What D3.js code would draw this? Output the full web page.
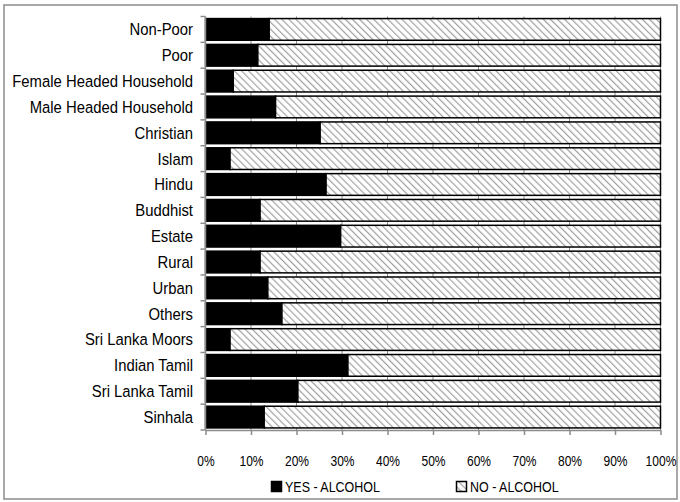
<!DOCTYPE html>
<html>
<head>
<meta charset="utf-8">
<script src="https://cdn.jsdelivr.net/npm/d3@7"></script>
<style>
  body { margin: 0; background: #fff; }
  svg text { font-family: "Liberation Sans", Arial, sans-serif; fill: #000; }
</style>
</head>
<body>
<div id="chart"></div>
<script>
// categories, top to bottom as drawn
var categories = ["Non-Poor", "Poor", "Female Headed Household", "Male Headed Household",
  "Christian", "Islam", "Hindu", "Buddhist", "Estate", "Rural", "Urban", "Others",
  "Sri Lanka Moors", "Indian Tamil", "Sri Lanka Tamil", "Sinhala"];

// share of households (%)
var yesAlcohol = [14.0, 11.5, 6.1, 15.4, 25.2, 5.4, 26.5, 12.0, 29.7, 12.0, 13.7, 16.8, 5.4, 31.3, 20.3, 12.9];
var noAlcohol  = [86.0, 88.5, 93.9, 84.6, 74.8, 94.6, 73.5, 88.0, 70.3, 88.0, 86.3, 83.2, 94.6, 68.7, 79.7, 87.1];

var xTicks = [0, 10, 20, 30, 40, 50, 60, 70, 80, 90, 100];
var seriesNames = ["YES - ALCOHOL", "NO - ALCOHOL"];

var width = 680, height = 502;
var narrow = 0.86; // squeeze text, the original uses a condensed face
var svg = d3.select("#chart").append("svg")
    .attr("width", width)
    .attr("height", height);

// hatch for the "no" series
var defs = svg.append("defs");
defs.append("pattern")
    .attr("id", "hatch")
    .attr("patternUnits", "userSpaceOnUse")
    .attr("width", 5)
    .attr("height", 5)
    .attr("patternTransform", "rotate(-45)")
  .call(function (p) {
    p.append("rect").attr("width", 5).attr("height", 5).attr("fill", "#fff");
    p.append("line")
      .attr("x1", 0).attr("y1", 0).attr("x2", 0).attr("y2", 5)
      .attr("stroke", "#a0a0a0").attr("stroke-width", 2.4);
  });

// outer frame
svg.append("rect")
    .attr("x", 4).attr("y", 5)
    .attr("width", 673).attr("height", 494)
    .attr("fill", "none")
    .attr("stroke", "#8c8c8c")
    .attr("stroke-width", 1.5);

var x = d3.scaleLinear().domain([0, 100]).range([205.5, 660.5]);
var y = d3.scaleBand().domain(categories).range([16.5, 430]).paddingInner(0.16).paddingOuter(0.08);
var band = (430 - 16.5) / categories.length;

// vertical gridlines
svg.append("g")
  .selectAll("line")
  .data(xTicks.slice(1))
  .enter().append("line")
    .attr("x1", function (d) { return x(d); })
    .attr("x2", function (d) { return x(d); })
    .attr("y1", 16.5)
    .attr("y2", 430)
    .attr("stroke", "#8c8c8c")
    .attr("stroke-width", 1);

var rows = svg.append("g")
  .selectAll("g")
  .data(categories)
  .enter().append("g");

rows.append("rect")
    .attr("x", x(0))
    .attr("y", function (d) { return y(d); })
    .attr("width", function (d, i) { return x(yesAlcohol[i]) - x(0); })
    .attr("height", y.bandwidth())
    .attr("fill", "#000")
    .attr("stroke", "#000")
    .attr("stroke-width", 1.5);

rows.append("rect")
    .attr("x", function (d, i) { return x(yesAlcohol[i]); })
    .attr("y", function (d) { return y(d); })
    .attr("width", function (d, i) { return x(yesAlcohol[i] + noAlcohol[i]) - x(yesAlcohol[i]); })
    .attr("height", y.bandwidth())
    .attr("fill", "url(#hatch)")
    .attr("stroke", "#000")
    .attr("stroke-width", 1.5);

// y axis: line, ticks at band edges, labels
var yAxis = svg.append("g");
yAxis.append("line")
    .attr("x1", x(0)).attr("x2", x(0))
    .attr("y1", 16.5).attr("y2", 430)
    .attr("stroke", "#8c8c8c").attr("stroke-width", 1.5);
yAxis.selectAll("line.tk")
  .data(d3.range(categories.length + 1))
  .enter().append("line")
    .attr("class", "tk")
    .attr("x1", x(0) - 5).attr("x2", x(0))
    .attr("y1", function (d) { return 16.5 + d * band; })
    .attr("y2", function (d) { return 16.5 + d * band; })
    .attr("stroke", "#8c8c8c").attr("stroke-width", 1.5);
yAxis.selectAll("text")
  .data(categories)
  .enter().append("text")
    .attr("transform", function (d) {
      return "translate(193," + (y(d) + y.bandwidth() / 2) + ") scale(0.9,1)";
    })
    .attr("dy", "0.36em")
    .attr("text-anchor", "end")
    .attr("font-size", "16.5px")
    .text(function (d) { return d; });

// x axis
var xAxis = svg.append("g").attr("transform", "translate(0,430)")
    .call(d3.axisBottom(x).tickValues(xTicks).tickSize(5).tickSizeOuter(0).tickPadding(21)
      .tickFormat(function (d) { return d + "%"; }));
xAxis.select(".domain").attr("stroke", "#8c8c8c").attr("stroke-width", 1.5);
xAxis.selectAll(".tick line").attr("stroke", "#8c8c8c").attr("stroke-width", 1.5);
xAxis.selectAll(".tick text").attr("font-size", "14.5px")
    .attr("font-family", "Liberation Sans, Arial, sans-serif")
    .attr("transform", "scale(" + (narrow - 0.03) + ",1)");

// legend
var legend = svg.append("g").attr("transform", "translate(0,487)");
var legendX = [271, 456];
var items = legend.selectAll("g")
  .data(seriesNames)
  .enter().append("g")
    .attr("transform", function (d, i) { return "translate(" + legendX[i] + ",0)"; });
items.append("rect")
    .attr("x", 0.5).attr("y", -5.5)
    .attr("width", 10).attr("height", 10)
    .attr("fill", function (d, i) { return i === 0 ? "#000" : "url(#hatch)"; })
    .attr("stroke", "#000")
    .attr("stroke-width", 1.5);
items.append("text")
    .attr("transform", "translate(14,0) scale(" + narrow + ",1)")
    .attr("dy", "0.36em")
    .attr("font-size", "14.5px")
    .text(function (d) { return d; });
</script>
</body>
</html>
